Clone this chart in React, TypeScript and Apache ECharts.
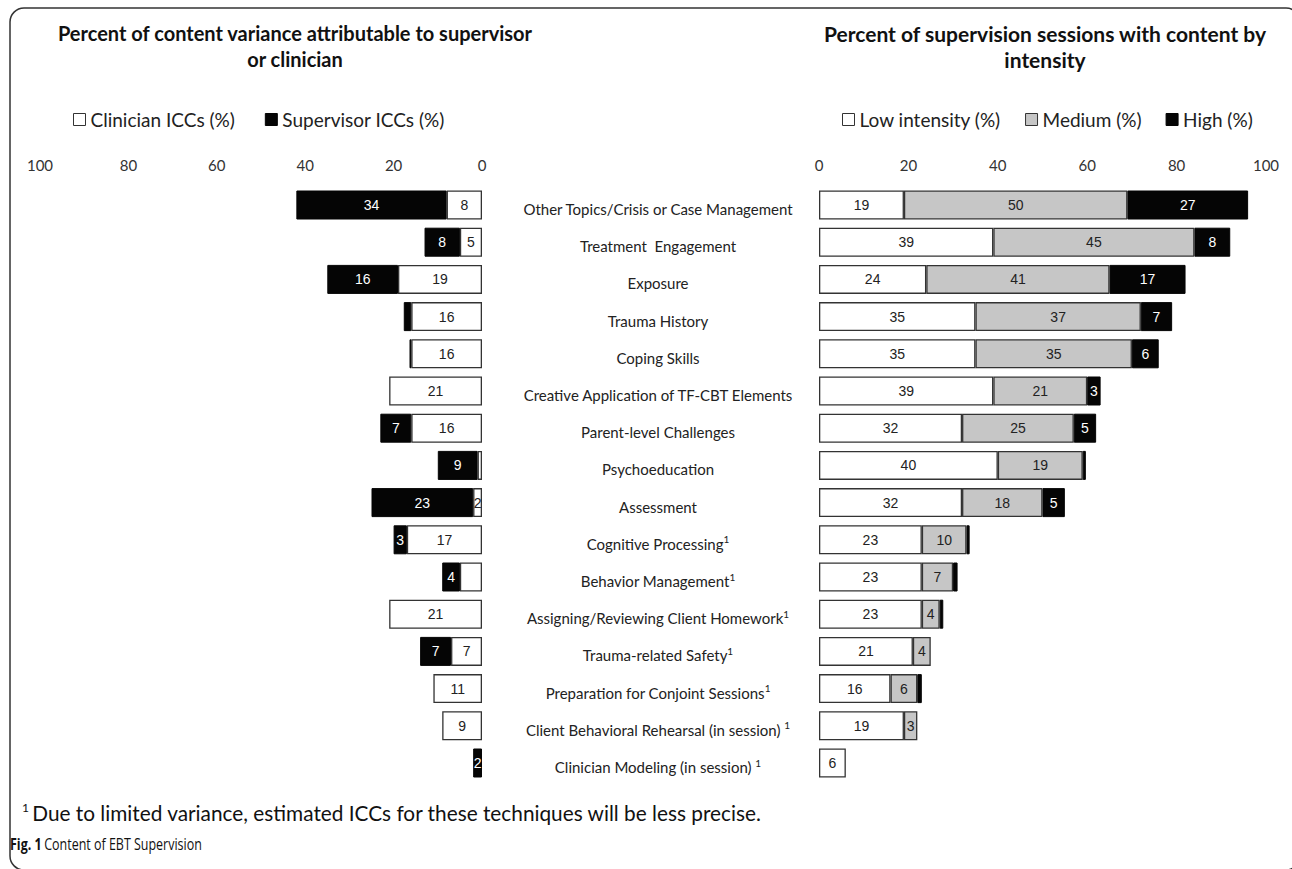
import React, { useEffect, useRef } from "react";
import * as echarts from "echarts";

const categories = [
  "Other Topics/Crisis or Case Management",
  "Treatment  Engagement",
  "Exposure",
  "Trauma History",
  "Coping Skills",
  "Creative Application of TF-CBT Elements",
  "Parent-level Challenges",
  "Psychoeducation",
  "Assessment",
  "Cognitive Processing",
  "Behavior Management",
  "Assigning/Reviewing Client Homework",
  "Trauma-related Safety",
  "Preparation for Conjoint Sessions",
  "Client Behavioral Rehearsal (in session) ",
  "Clinician Modeling (in session) ",
];
const hasNote = [false, false, false, false, false, false, false, false, false, true, true, true, true, true, true, true];

const clinicianICC = [8, 5, 19, 16, 16, 21, 16, 1, 2, 17, 5, 21, 7, 11, 9, 0];
const supervisorICC = [34, 8, 16, 1.7, 0.4, 0, 7, 9, 23, 3, 4, 0, 7, 0, 0, 2];
const clinicianUnlabeled = [10];

const lowIntensity = [19, 39, 24, 35, 35, 39, 32, 40, 32, 23, 23, 23, 21, 16, 19, 6];
const mediumIntensity = [50, 45, 41, 37, 35, 21, 25, 19, 18, 10, 7, 4, 4, 6, 3, 0];
const highIntensity = [27, 8, 17, 7, 6, 3, 5, 0.7, 5, 0.7, 1, 0.8, 0, 1, 0, 0];

const tickValues = [0, 20, 40, 60, 80, 100];

const leftTitle = "Percent of content variance attributable to supervisor\nor clinician";
const rightTitle = "Percent of supervision sessions with content by\nintensity";
const footnote = "Due to limited variance, estimated ICCs for these techniques will be less precise.";

const WHITE = "#ffffff";
const GRAY = "#c6c6c6";
const BLACK = "#050505";
const EDGE = "#333333";
const SANS = "Lato, 'Noto Sans', sans-serif";
const BARFONT = "'Liberation Sans', Arial, sans-serif";

const toData = (arr: number[], hidden: number[] = []) =>
  arr.map((v, i) => {
    if (v === 0) return "-";
    if (hidden.includes(i)) return { value: v, label: { show: false } };
    return v;
  });

const labelFmt = (p: any) => (p.value >= 2 ? String(p.value) : "");

export default function App() {
  const ref = useRef<HTMLDivElement>(null);
  useEffect(() => {
    document.body.style.margin = "0";
    const chart = echarts.init(ref.current!, null, { renderer: "svg" });
    const gridTop = 186.4;
    const gridBottom = 87.4;
    const xAxisCommon = {
      type: "value",
      min: tickValues[0],
      max: tickValues[tickValues.length - 1],
      interval: 20,
      position: "top",
      axisLine: { show: false },
      axisTick: { show: false },
      splitLine: { show: false },
      axisLabel: { color: "#333", fontSize: 15, fontFamily: SANS, margin: 14 },
    };
    const barCommon = {
      type: "bar",
      stack: "",
      barWidth: 29,
      label: {
        show: true,
        position: "inside",
        fontSize: 14,
        fontFamily: BARFONT,
        color: "#222",
        formatter: labelFmt,
      },
    };
    const legendText = { fontSize: 19, fontFamily: SANS, color: "#222" };
    const option: any = {
      animation: false,
      backgroundColor: "#fff",
      grid: [
        { left: 40, right: 810, top: gridTop, bottom: gridBottom },
        { left: 819, right: 26, top: gridTop, bottom: gridBottom },
      ],
      xAxis: [
        { ...xAxisCommon, gridIndex: 0, inverse: true },
        { ...xAxisCommon, gridIndex: 1 },
      ],
      yAxis: [
        {
          type: "category",
          gridIndex: 0,
          inverse: true,
          data: categories,
          show: false,
        },
        {
          type: "category",
          gridIndex: 1,
          inverse: true,
          data: categories,
          axisLine: { show: false },
          axisTick: { show: false },
          axisLabel: {
            margin: 161,
            align: "center",
            padding: [8, 0, 0, 0],
            formatter: (value: string, idx: number) =>
              hasNote[idx] ? `{a|${value}}{s|1}` : `{a|${value}}`,
            rich: {
              a: { fontSize: 15, fontFamily: SANS, color: "#222", lineHeight: 19 },
              s: { fontSize: 10, fontFamily: SANS, color: "#222", verticalAlign: "top", lineHeight: 19 },
            },
          },
        },
      ],
      legend: [
        {
          left: 68,
          top: 105,
          itemWidth: 12,
          itemHeight: 12,
          itemGap: 30,
          textStyle: legendText,
          data: [
            { name: "Clinician ICCs (%)", icon: "rect", itemStyle: { color: WHITE, borderColor: EDGE, borderWidth: 1 } },
            { name: "Supervisor ICCs (%)", icon: "rect", itemStyle: { color: BLACK, borderColor: BLACK, borderWidth: 1 } },
          ],
        },
        {
          left: 837,
          top: 105,
          itemWidth: 12,
          itemHeight: 12,
          itemGap: 24,
          textStyle: legendText,
          data: [
            { name: "Low intensity (%)", icon: "rect", itemStyle: { color: WHITE, borderColor: EDGE, borderWidth: 1 } },
            { name: "Medium (%)", icon: "rect", itemStyle: { color: GRAY, borderColor: EDGE, borderWidth: 1 } },
            { name: "High (%)", icon: "rect", itemStyle: { color: BLACK, borderColor: BLACK, borderWidth: 1 } },
          ],
        },
      ],
      series: [
        {
          ...barCommon,
          name: "Clinician ICCs (%)",
          stack: "left",
          xAxisIndex: 0,
          yAxisIndex: 0,
          itemStyle: { color: WHITE, borderColor: EDGE, borderWidth: 1.3 },
          data: toData(clinicianICC, clinicianUnlabeled),
        },
        {
          ...barCommon,
          name: "Supervisor ICCs (%)",
          stack: "left",
          xAxisIndex: 0,
          yAxisIndex: 0,
          itemStyle: { color: BLACK, borderColor: BLACK, borderWidth: 1 },
          label: { ...barCommon.label, color: "#fff" },
          data: toData(supervisorICC),
        },
        {
          ...barCommon,
          name: "Low intensity (%)",
          stack: "right",
          xAxisIndex: 1,
          yAxisIndex: 1,
          itemStyle: { color: WHITE, borderColor: EDGE, borderWidth: 1.3 },
          data: toData(lowIntensity),
        },
        {
          ...barCommon,
          name: "Medium (%)",
          stack: "right",
          xAxisIndex: 1,
          yAxisIndex: 1,
          itemStyle: { color: GRAY, borderColor: EDGE, borderWidth: 1.3 },
          data: toData(mediumIntensity),
        },
        {
          ...barCommon,
          name: "High (%)",
          stack: "right",
          xAxisIndex: 1,
          yAxisIndex: 1,
          itemStyle: { color: BLACK, borderColor: BLACK, borderWidth: 1 },
          label: { ...barCommon.label, color: "#fff" },
          data: toData(highIntensity),
        },
      ],
      graphic: [
        {
          type: "rect",
          shape: { x: 10, y: 8, width: 1290, height: 862, r: 14 },
          style: { fill: "none", stroke: "#333", lineWidth: 1.5 },
          silent: true,
        },
        {
          type: "text",
          x: 295,
          y: 20,
          style: {
            text: leftTitle,
            textAlign: "center",
            textVerticalAlign: "top",
            font: `bold 20px ${SANS}`,
            lineHeight: 26,
            fill: "#111",
          },
        },
        {
          type: "text",
          x: 1045,
          y: 20,
          style: {
            text: rightTitle,
            textAlign: "center",
            textVerticalAlign: "top",
            font: `bold 21px ${SANS}`,
            lineHeight: 26,
            fill: "#111",
          },
        },
        {
          type: "text",
          x: 22,
          y: 812,
          style: {
            text: `{s|1} {t|${footnote}}`,
            textVerticalAlign: "middle",
            rich: {
              s: { fontSize: 12, fontFamily: SANS, fill: "#111", verticalAlign: "top", lineHeight: 22 },
              t: { fontSize: 20.8, fontFamily: SANS, fill: "#111", lineHeight: 22 },
            },
          },
        },
        {
          type: "text",
          x: 10,
          y: 844,
          scaleX: 0.78,
          style: {
            text: "{b|Fig. 1} {t|Content of EBT Supervision}",
            textVerticalAlign: "middle",
            rich: {
              b: { fontSize: 16, fontWeight: "bold", fontFamily: "'Open Sans', sans-serif", fill: "#111" },
              t: { fontSize: 16, fontFamily: "'Open Sans', sans-serif", fill: "#111" },
            },
          },
        },
      ],
    };
    chart.setOption(option);
    return () => chart.dispose();
  }, []);
  return <div ref={ref} style={{ width: 1292, height: 869 }} />;
}
